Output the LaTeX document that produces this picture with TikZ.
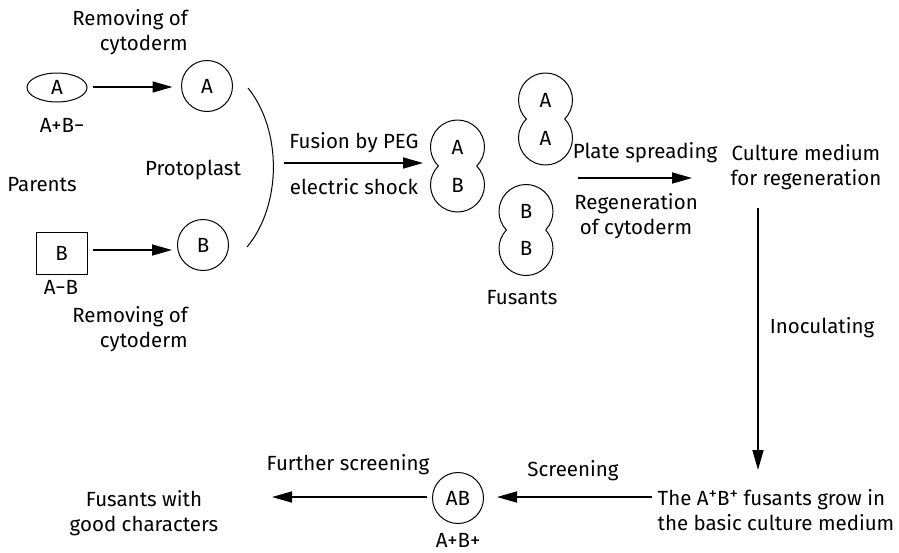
\documentclass[tikz,border=0pt]{standalone}
\usepackage{fontspec}
\setmainfont{Fira Sans}
\usetikzlibrary{arrows.meta,shapes.geometric,calc}
\newcommand{\fusedpair}[6]{%
  % #1 name, #2 cx, #3 cy (mid), #4 top label, #5 bottom label, #6 half distance
  \node[lbl] (#1t) at (#2,#3-#6) {#4};
  \node[lbl] (#1b) at (#2,#3+#6) {#5};
  \pgfmathsetmacro{\fpang}{acos(#6/27)}%
  \draw[cellline] ($(#1t.center)+({90-\fpang}:27)$)
     arc[start angle={90-\fpang}, end angle={-270+\fpang}, radius=27]
     arc[start angle={-90-\fpang}, end angle={-360-90+\fpang}, radius=27];
}
\newcommand{\supplus}{\raisebox{6pt}{\fontsize{17}{17}\selectfont +}}
\begin{document}
\begin{tikzpicture}[x=1pt,y=-1pt,
  every node/.style={font=\fontsize{20.5}{25}\selectfont, inner sep=0pt},
  lbl/.style={},
  cellline/.style={line width=1pt},
  cellc/.style={circle, draw, line width=1pt, minimum size=51pt},
  arr/.style={line width=1.6pt, -{Triangle[length=20pt,width=11pt]}},
  txt/.style={align=center}]
\useasboundingbox (0,0) rectangle (899,552);

% parents
\node[ellipse, draw, line width=1pt, minimum width=60pt, minimum height=29pt] (ellA) at (57,87.5) {A};
\node (abm) at (62,125) {A+B\textminus};
\node[draw, line width=1pt, minimum width=51pt, minimum height=42pt] (sqB) at (61.5,253) {B};
\node (amb) at (61,287) {A\textminus B};
\node (parents) at (42,185) {Parents};

% protoplasts
\node[cellc] (cA) at (207,86) {A};
\node[cellc] (cB) at (203,245) {B};
\node[align=right, anchor=east] (rem1) at (188,32.5) {Removing of\\cytoderm};
\node[align=right, anchor=east] (rem2) at (188,329.5) {Removing of\\cytoderm};
\node (proto) at (193,170) {Protoplast};

\draw[arr] ([xshift=5pt]ellA.east |- cA.west) ++(0,1) -- ++(80,0);
\draw[arr] ([xshift=5pt]sqB.east) ++(0,-3) coordinate (bS) -- (bS -| 172,0);

% arc
\coordinate (arcT) at (248,88);
\coordinate (arcB) at (247,247);
\draw[line width=1pt] (arcT) .. controls (282,130) and (282,205) .. (arcB);

% fusion
\coordinate (fusS) at (284,163);
\fusedpair{fAB}{457.5}{166}{A}{B}{19}
\draw[arr] (fusS) -- (423,163);
\node (fpeg) at (354,143) {Fusion by PEG};
\node (fel) at (354,187) {electric shock};

\fusedpair{fAA}{545.5}{119}{A}{A}{19}
\fusedpair{fBB}{526}{230}{B}{B}{18.5}
\node (fusants) at (522,298) {Fusants};

% plate spreading
\node[txt] (culture) at (806,167.5) {Culture medium\\for regeneration};
\coordinate (psS) at (578,178);
\draw[arr] (psS) -- (psS -| 692,0);
\node (plate) at (645,153) {Plate spreading};
\node[txt] (regen) at (636,216.5) {Regeneration\\of cytoderm};

% inoculating
\node[align=left] (grow) at (776,510) {The A\supplus B\supplus{} fusants grow in\\the basic culture medium};
\coordinate (inS) at (758,208);
\draw[arr] (inS) -- (758,470);
\node (inoc) at (822,328) {Inoculating};

% screening
\node[cellc] (cAB) at (458,498) {AB};
\node (apbp) at (458,540) {A+B+};
\draw[arr] (652,497) -- (497,497);
\node (scr) at (573,471) {Screening};

\node[txt] (good) at (144,513.5) {Fusants with\\good characters};
\draw[arr] (427,497) -- (272,497);
\node (further) at (348,465) {Further screening};
\end{tikzpicture}
\end{document}
